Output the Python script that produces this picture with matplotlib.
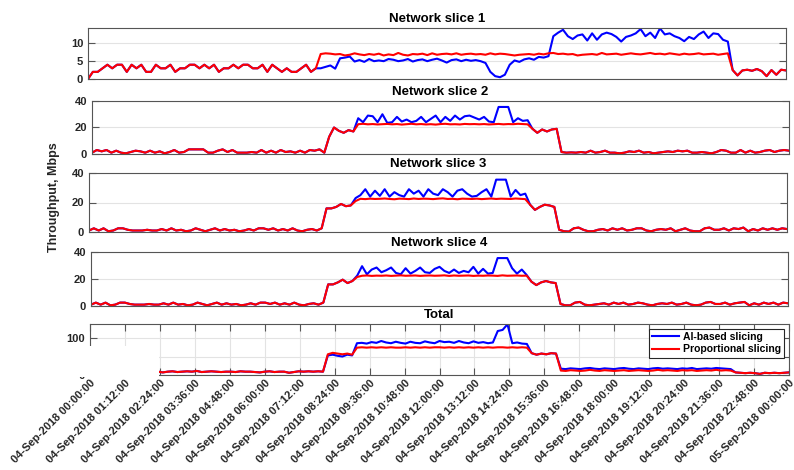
import matplotlib
matplotlib.use("Agg")
import matplotlib.pyplot as plt
import matplotlib.dates as mdates
from matplotlib.patches import Rectangle
import numpy as np
import pandas as pd

plt.rcParams["font.family"] = ["Liberation Sans", "DejaVu Sans"]
plt.rcParams["font.weight"] = "bold"

# 10-minute samples over one day
times = pd.date_range("2018-09-04 00:00", "2018-09-05 00:00", freq="10min")
tick_times = pd.date_range("2018-09-04 00:00", "2018-09-05 00:00", freq="72min")

titles = ["Network slice 1", "Network slice 2", "Network slice 3", "Network slice 4", "Total"]
legend_labels = ["AI-based slicing", "Proportional slicing"]

# ---- proportional slicing (Mbps) ----
s1_prop = [
    0, 2, 2, 3, 4, 3, 4, 4, 2, 4,
    3, 4, 2, 2, 4, 3, 3, 4, 2, 3,
    3, 4, 4, 3, 4, 3, 4, 2, 3, 3,
    4, 3, 4, 4, 3, 3, 4, 2, 4, 3,
    2, 3, 2, 2, 3, 4, 2, 3, 7.0, 7.2,
    7.1, 6.9, 7.0, 6.6, 6.8, 7.2, 6.9, 6.7, 7.0, 6.8,
    7.1, 6.6, 6.9, 6.7, 7.3, 6.8, 6.6, 7.0, 6.9, 7.1,
    6.7, 7.2, 6.8, 7.0, 7.1, 6.9, 7.2, 6.8, 7.0, 7.1,
    6.9, 7.0, 6.8, 7.2, 6.9, 7.1, 7.0, 6.8, 6.6, 6.8,
    6.9, 7.0, 6.8, 7.1, 6.9, 7.2, 7.3, 7.0, 7.1, 6.9,
    7.0, 6.6, 6.8, 6.9, 7.0, 6.8, 7.3, 6.9, 7.0, 7.1,
    6.8, 7.0, 7.2, 7.0, 6.9, 7.1, 7.3, 7.0, 7.1, 6.9,
    7.2, 7.0, 6.8, 7.1, 6.9, 7.0, 7.2, 6.9, 7.0, 7.1,
    6.8, 7.0, 7.2, 2.5, 1.0, 2.4, 2.6, 2.3, 2.8, 2.2,
    0.8, 2.5, 1.2, 2.6, 2.4,
]
s2_prop = [
    1.0, 3.0, 2.0, 3.0, 1.0, 2.5, 1.0, 0.5, 1.5, 2.5,
    2.0, 1.0, 2.5, 1.0, 2.0, 0.5, 1.5, 3.0, 1.0, 1.5,
    3.5, 3.5, 3.5, 3.5, 1.0, 1.0, 2.5, 3.5, 1.5, 3.0,
    1.0, 1.0, 1.0, 1.5, 1.0, 3.0, 1.0, 2.5, 1.0, 3.0,
    1.5, 2.0, 1.0, 2.5, 1.0, 3.0, 2.5, 3.5, 1.0, 13.0,
    20.0, 17.5, 16.0, 18.0, 17.0, 22.5, 22.8, 22.4, 22.6, 22.3,
    22.5, 22.7, 22.4, 22.6, 22.2, 22.5, 22.8, 22.4, 22.6, 22.3,
    22.5, 22.2, 22.6, 22.8, 22.4, 22.5, 22.3, 22.7, 22.5, 22.6,
    22.4, 22.6, 22.3, 22.5, 22.7, 22.4, 22.6, 22.5, 22.8, 22.6,
    22.4, 19.0, 16.0, 18.5, 17.0, 18.5, 19.0, 1.5, 1.0, 1.2,
    1.0, 1.5, 1.0, 2.5, 1.0, 1.5, 2.5, 1.0, 1.0, 0.5,
    1.0, 2.0, 1.5, 2.5, 1.0, 1.5, 0.5, 1.0, 1.5, 2.0,
    1.5, 2.5, 2.0, 2.5, 1.0, 1.0, 1.5, 1.0, 0.5, 1.5,
    3.0, 2.5, 1.0, 1.0, 3.0, 1.0, 2.5, 1.0, 1.5, 2.5,
    3.0, 1.5, 2.5, 3.0, 2.5,
]
s3_prop = [
    1.0, 2.5, 1.0, 2.5, 0.5, 1.0, 2.5, 2.5, 1.5, 1.0,
    1.0, 1.0, 1.5, 1.0, 1.0, 2.0, 1.0, 2.5, 1.0, 1.5,
    0.5, 1.0, 2.5, 1.5, 0.5, 1.5, 2.5, 1.0, 2.0, 1.0,
    1.5, 0.5, 1.0, 2.0, 1.0, 2.5, 2.5, 1.5, 2.5, 1.0,
    2.0, 1.0, 2.5, 1.0, 0.5, 1.5, 2.0, 1.0, 2.5, 16.0,
    16.0, 17.0, 19.0, 17.5, 18.0, 21.0, 22.5, 22.3, 22.6, 22.4,
    22.5, 22.7, 22.4, 22.2, 22.6, 22.5, 22.3, 22.7, 22.4, 22.6,
    22.5, 22.3, 22.6, 22.8, 22.4, 22.5, 22.2, 22.6, 22.5, 22.4,
    22.6, 22.3, 22.5, 22.7, 22.4, 22.6, 22.5, 22.4, 22.7, 22.5,
    22.3, 18.5, 15.0, 17.0, 18.5, 18.0, 17.0, 1.5, 0.5, 0.3,
    2.5, 3.0, 1.5, 0.5, 0.5, 1.5, 2.0, 1.0, 2.5, 1.5,
    2.5, 1.0, 1.5, 2.5, 2.5, 1.0, 0.5, 1.5, 2.0, 1.5,
    2.5, 0.5, 1.5, 2.5, 1.0, 0.5, 0.5, 2.5, 3.0, 1.5,
    1.5, 2.5, 1.0, 2.5, 2.0, 3.0, 0.5, 2.0, 1.0, 2.5,
    1.5, 2.5, 1.5, 2.5, 2.0,
]
s4_prop = [
    1.0, 2.5, 1.0, 2.5, 0.5, 1.0, 2.5, 2.5, 1.5, 1.0,
    1.0, 1.0, 1.5, 1.0, 1.0, 2.0, 1.0, 2.5, 1.0, 1.5,
    0.5, 1.0, 2.5, 1.5, 0.5, 1.5, 2.5, 1.0, 2.0, 1.0,
    1.5, 0.5, 1.0, 2.0, 1.0, 2.5, 2.5, 1.5, 2.5, 1.0,
    2.0, 1.0, 2.5, 1.0, 0.5, 1.5, 2.0, 1.0, 2.5, 16.0,
    16.0, 17.5, 19.5, 17.0, 18.5, 21.5, 22.4, 22.6, 22.3, 22.5,
    22.4, 22.6, 22.3, 22.5, 22.7, 22.4, 22.5, 22.6, 22.3, 22.5,
    22.6, 22.4, 22.5, 22.7, 22.3, 22.6, 22.4, 22.5, 22.6, 22.3,
    22.5, 22.4, 22.6, 22.5, 22.3, 22.7, 22.4, 22.5, 22.6, 22.4,
    22.5, 18.0, 15.5, 17.5, 18.5, 17.5, 17.0, 1.5, 0.5, 0.5,
    2.5, 3.0, 1.0, 0.5, 1.0, 1.5, 2.0, 1.0, 2.5, 1.5,
    2.5, 1.0, 1.5, 2.5, 2.0, 1.0, 0.5, 1.5, 2.0, 1.5,
    2.5, 1.0, 1.5, 2.5, 1.0, 0.5, 1.0, 2.5, 3.0, 1.5,
    1.5, 2.5, 1.0, 2.0, 2.5, 3.0, 0.5, 2.0, 1.0, 2.5,
    1.5, 2.5, 1.0, 2.5, 2.0,
]
tot_prop = [
    8, 10, 9, 10, 8, 9, 10, 9, 8, 10,
    9, 8, 10, 9, 9, 7, 9, 10, 8, 9,
    10, 9, 11, 8, 9, 10, 9, 8, 9, 9,
    8, 10, 9, 9, 8, 7, 9, 10, 8, 9,
    9, 6, 8, 10, 9, 10, 9, 10, 9, 56,
    60, 58, 56, 58, 55, 74, 75, 74, 75, 74,
    75, 74, 75, 74, 74, 75, 74, 75, 74, 75,
    74, 75, 75, 74, 75, 74, 75, 74, 75, 74,
    75, 74, 75, 74, 75, 75, 74, 75, 74, 75,
    74, 59, 55, 58, 56, 59, 58, 12, 11, 13,
    12, 11, 12, 14, 12, 11, 13, 12, 11, 12,
    13, 11, 12, 13, 12, 11, 12, 14, 12, 13,
    12, 11, 13, 12, 13, 11, 12, 13, 12, 14,
    12, 13, 12, 7, 6, 5, 6, 5, 3, 6,
    5, 6, 5, 6, 7,
]

# ---- AI-based slicing: equal to proportional except on these stretches ----
s1_ai_from = 48
s1_ai_seg = [
    3.0, 3.4, 3.8, 2.9, 5.8, 6.0, 6.3, 4.9, 5.3, 4.8, 5.6, 5.0,
    5.2, 5.0, 5.6, 5.4, 5.0, 5.2, 5.6, 4.9, 5.3, 5.5,
    5.0, 5.4, 5.7, 5.2, 4.6, 5.3, 5.5, 5.0, 5.4, 5.1,
    5.3, 5.0, 4.5, 2.0, 0.8, 0.5, 1.2, 4.0, 5.2, 4.8,
    5.5, 5.8, 5.4, 6.2, 6.0, 6.4, 12.0, 13.0, 13.8, 12.0,
    11.2, 12.2, 12.5, 10.8, 12.8, 11.0, 12.5, 13.0, 12.6, 11.8,
    10.5, 11.8, 12.2, 12.8, 14.0, 12.0, 13.0, 11.5, 14.2, 12.5,
    12.8, 12.0, 11.5, 10.6, 11.8, 11.2, 12.5, 13.3, 11.5, 12.8,
    12.6, 11.0, 10.5,
]
s2_ai_from = 55
s2_ai_seg = [
    27, 24, 29, 28.5, 24, 30, 23.5, 24, 28, 24.5,
    26, 24, 25, 28, 24, 26.5, 29, 24, 28, 25,
    29, 26, 28.5, 29, 27.5, 26, 28, 24.5, 24, 35.5,
    35.5, 35.5, 24, 27, 25, 25.5,
]
s3_ai_from = 55
s3_ai_seg = [
    23, 25, 29, 24, 28, 24.5, 29, 24, 27, 25,
    24, 29, 26, 28, 24, 29, 26, 25, 29, 27,
    24, 28, 29, 26, 24, 24.5, 27, 29, 24, 35.5,
    35.5, 35.5, 24, 28.5, 25, 26,
]
s4_ai_from = 55
s4_ai_seg = [
    22.5, 29.5, 23.5, 27, 28.5, 25, 26.5, 28.5, 24.5, 23.5,
    28, 24, 26, 28.5, 25, 24.5, 27.5, 29, 26, 24.5,
    27, 24.5, 26, 25, 29, 24, 27.5, 24, 24.5, 35.5,
    35.5, 35.5, 28, 24, 27, 23,
]
tot_ai_from = 49
tot_ai_seg = [
    53, 55, 52, 50, 55, 53,
    86, 87, 85, 89, 87, 92, 88, 86, 90, 87,
    85, 90, 87, 86, 91, 88, 86, 92, 89, 90,
    87, 92, 88, 86, 91, 87, 89, 86, 88, 119,
    122, 137, 86, 88, 85, 84,
]
tot_ai_from2 = 97
tot_ai_seg2 = [
    17, 16, 18, 17, 16, 18, 19, 17, 16, 18,
    17, 16, 18, 19, 17, 16, 18, 17, 16, 18,
    19, 17, 18, 17, 16, 18, 17, 19, 16, 17,
    18, 17, 19, 18, 17, 16,
]


def patched(base, *segments):
    arr = np.array(base, dtype=float)
    for start, seg in segments:
        arr[start:start + len(seg)] = seg
    return arr


prop = [np.array(v, dtype=float) for v in (s1_prop, s2_prop, s3_prop, s4_prop, tot_prop)]
ai = [
    patched(s1_prop, (s1_ai_from, s1_ai_seg)),
    patched(s2_prop, (s2_ai_from, s2_ai_seg)),
    patched(s3_prop, (s3_ai_from, s3_ai_seg)),
    patched(s4_prop, (s4_ai_from, s4_ai_seg)),
    patched(tot_prop, (tot_ai_from, tot_ai_seg), (tot_ai_from2, tot_ai_seg2)),
]

W, H = 794, 470
fig = plt.figure(figsize=(W / 100, H / 100), dpi=100)

# axes boxes in pixels: left, right, top, bottom
boxes = [(88, 786, 28, 79), (92, 789, 101, 154), (89, 787, 173, 232),
         (91, 788, 252, 306), (90, 789, 324, 375)]
ylims = [(0, 14.3), (0, 40), (0, 40), (0, 40), (0, 138)]
yticks = [[0, 5, 10], [0, 20, 40], [0, 20, 40], [0, 20, 40], [0, 50, 100]]

spine_c = "#555555"
text_c = "#262626"

for k, (l, r, t, b) in enumerate(boxes):
    ax = fig.add_axes([l / W, 1 - b / H, (r - l) / W, (b - t) / H])
    ax.plot(times, ai[k], color="#0000ff", lw=1.5, label=legend_labels[0])
    ax.plot(times, prop[k], color="#ff0000", lw=1.5, label=legend_labels[1])
    ax.set_xlim(times[0], times[-1])
    ax.set_ylim(*ylims[k])
    ax.set_yticks(yticks[k])
    ax.set_axisbelow(True)
    ax.set_title(titles[k], fontsize=9.5, fontweight="bold", pad=4, color="black")
    for s in ax.spines.values():
        s.set_color(spine_c)
        s.set_linewidth(0.8)
    ax.tick_params(direction="in", length=5, width=0.8, color=spine_c,
                   labelsize=8, labelcolor=text_c, right=True, top=True)
    ax.tick_params(axis="y", pad=3.5)
    ax.tick_params(axis="x", pad=2)
    if k < 4:
        ax.set_xticks([])
        ax.grid(axis="y", color="#e3e3e3", lw=0.8)
    else:
        ax.set_xticks(tick_times)
        ax.xaxis.set_major_formatter(mdates.DateFormatter("%d-%b-%Y %H:%M:%S"))
        plt.setp(ax.get_xticklabels(), rotation=45, ha="right", rotation_mode="anchor")
        ax.grid(True, color="#e3e3e3", lw=0.8)
        leg = ax.legend(loc="upper right", fontsize=7.5, frameon=True, fancybox=False,
                        framealpha=1, edgecolor="#262626", borderaxespad=0.45,
                        handlelength=2.6, handletextpad=0.4, borderpad=0.3,
                        labelspacing=0.25)
        leg.get_frame().set_linewidth(0.8)

fig.text(54 / W, 1 - 197 / H, "Throughput, Mbps", rotation=90, ha="center", va="center",
         fontsize=9, fontweight="bold", color=text_c)

# white block over the lower-left part of the Total panel, as in the source figure
fig.add_artist(Rectangle((0, 1 - 377 / H), 158.5 / W, 31 / H, transform=fig.transFigure,
                         facecolor="white", edgecolor="none", zorder=5))

fig.savefig("out.png", dpi=100)
plt.close(fig)
